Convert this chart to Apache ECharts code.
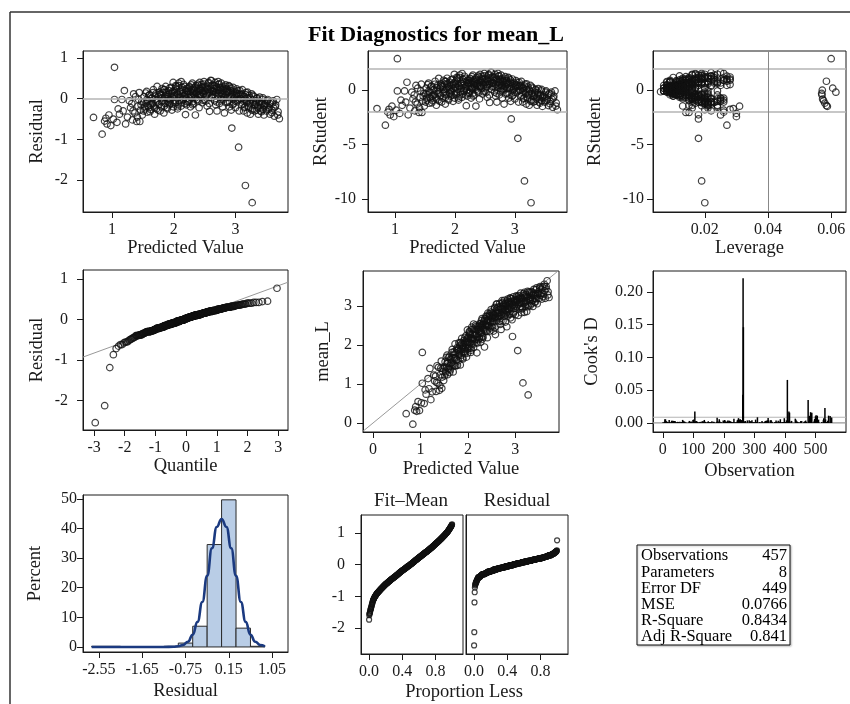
<!DOCTYPE html>
<html><head><meta charset="utf-8">
<script src="https://cdn.jsdelivr.net/npm/echarts@6.0.0/dist/echarts.min.js"></script>
<style>html,body{margin:0;padding:0;background:#fff}#c{width:850px;height:704px}</style>
</head><body><div id="c"></div>
<script>
// ---------------- data ----------------
const predicted = [
0.70,0.84,0.88,0.92,0.95,0.98,
1.04,1.04,1.16,1.20,1.02,1.08,1.12,1.18,1.25,
1.30,1.32,1.33,1.35,1.37,1.40,1.42,1.44,1.45,1.46,1.48,1.49,
1.51,1.52,1.53,1.55,1.56,1.57,1.58,1.60,1.61,1.62,1.63,1.65,1.66,1.67,1.68,1.69,1.70,1.71,1.72,1.73,1.74,1.75,1.76,1.77,1.78,
1.79,1.80,1.81,1.82,1.83,1.84,1.85,1.86,1.87,1.88,1.89,1.90,1.91,1.92,1.93,1.94,1.95,1.96,1.97,1.98,1.99,1.99,2.00,1.85,1.93,
2.01,2.02,2.03,2.04,2.05,2.06,2.07,2.08,2.09,2.10,2.11,2.12,2.13,2.14,2.15,2.16,2.17,2.18,2.19,2.19,2.20,2.21,2.22,2.04,2.12,2.07,
2.23,2.24,2.25,2.26,2.27,2.28,2.29,2.30,2.31,2.32,2.33,2.34,2.35,2.36,2.37,2.38,2.39,2.40,2.41,2.42,2.26,2.30,2.34,2.38,2.28,2.40,
2.43,2.44,2.45,2.46,2.47,2.48,2.49,2.50,2.51,2.52,2.53,2.54,2.55,2.56,2.57,2.58,2.59,2.60,2.61,2.62,2.63,2.64,2.46,2.52,2.58,2.61,
2.65,2.66,2.67,2.68,2.69,2.70,2.71,2.72,2.73,2.74,2.75,2.76,2.77,2.78,2.79,2.80,2.81,2.82,2.83,2.84,2.85,2.68,2.72,2.76,2.80,2.84,
2.86,2.87,2.88,2.89,2.90,2.91,2.92,2.93,2.94,2.95,2.96,2.97,2.98,2.99,3.00,3.01,3.02,3.03,3.04,3.05,3.06,3.07,3.08,2.90,2.96,3.02,
3.09,3.10,3.11,3.12,3.13,3.14,3.15,3.16,3.17,3.18,3.19,3.20,3.21,3.22,3.23,3.24,3.25,3.26,3.27,3.28,3.29,3.30,3.31,3.32,3.14,
3.33,3.34,3.35,3.36,3.37,3.38,3.39,3.41,3.42,3.43,3.44,3.45,3.46,3.47,
3.49,3.50,3.52,3.54,3.56,3.57,3.59,3.61,3.62,3.63,3.65,3.67,3.69,3.71,
0.90,1.10,1.22,1.28,
1.34,1.38,1.41,1.47,1.43,
1.515,1.535,1.545,1.565,1.585,1.595,1.615,1.635,1.645,1.665,1.685,1.705,1.725,1.745,1.765,
1.785,1.805,1.815,1.835,1.845,1.865,1.875,1.895,1.905,1.915,1.935,1.945,1.965,1.975,1.995,
2.005,2.015,2.025,2.035,2.055,2.065,2.085,2.095,2.115,2.125,2.145,2.155,2.175,2.185,2.205,2.215,
2.225,2.235,2.245,2.265,2.275,2.285,2.305,2.315,2.325,2.345,2.355,2.365,2.385,2.395,2.405,2.415,
2.425,2.435,2.455,2.465,2.475,2.485,2.505,2.515,2.535,2.545,2.565,2.575,2.595,2.605,2.625,2.635,
2.645,2.655,2.675,2.685,2.695,2.715,2.725,2.735,2.755,2.765,2.785,2.795,2.805,2.825,2.835,2.845,
2.855,2.865,2.875,2.895,2.905,2.925,2.935,2.955,2.965,2.985,2.995,3.015,3.035,3.055,3.075,
3.085,3.105,3.115,3.135,3.145,3.165,3.185,3.195,3.215,3.235,3.245,3.265,3.285,3.305,
3.325,3.345,3.365,3.385,3.405,3.425,3.445,3.465,
3.495,3.515,3.535,3.555,3.585,3.605,3.645,3.685
];
const residual = [
-0.46,-0.87,-0.55,-0.62,-0.40,-0.66,
0.77,-0.02,-0.02,0.20,-0.50,-0.58,-0.38,-0.30,-0.45,
-0.22,-0.12,-0.52,0.12,-0.35,-0.56,-0.18,0.15,-0.56,-0.28,-0.08,-0.40,
-0.30,0.05,-0.20,-0.12,0.18,-0.33,-0.05,-0.22,0.10,-0.15,-0.27,0.02,-0.10,0.22,-0.18,-0.38,-0.02,0.12,-0.25,0.30,-0.08,0.05,-0.14,0.16,-0.30,
0.08,-0.20,0.25,-0.05,0.15,-0.35,0.02,-0.12,0.30,0.10,-0.22,0.05,-0.08,0.20,-0.15,0.12,-0.02,0.28,-0.28,0.18,0.40,-0.10,0.07,0.22,-0.04,
0.15,-0.10,0.32,0.02,0.22,-0.25,0.10,0.38,-0.05,0.18,0.05,-0.18,0.28,0.12,-0.02,0.35,0.08,-0.12,-0.39,0.20,0.00,0.25,-0.08,0.30,0.42,-0.15,
0.18,-0.05,0.30,0.10,-0.20,0.22,0.02,0.38,0.14,-0.12,0.26,0.06,-0.40,0.32,0.16,-0.02,0.24,0.10,-0.22,0.40,0.28,-0.08,0.20,0.12,0.04,0.33,
0.20,0.05,0.35,-0.10,0.25,0.12,0.42,-0.02,0.18,0.30,0.08,-0.18,0.22,0.38,0.14,-0.31,0.26,0.45,0.02,0.20,0.34,0.10,0.28,-0.06,0.16,0.44,
0.25,-0.05,0.40,0.15,0.30,-0.30,0.08,0.35,0.20,-0.12,0.28,0.05,0.38,0.12,-0.20,0.22,0.02,-0.35,0.30,0.10,0.18,-0.15,0.42,0.24,-0.02,0.34,
0.25,-0.08,0.15,0.32,-0.20,0.05,0.20,-0.28,-0.72,0.10,0.28,-0.12,0.02,0.18,-0.22,0.08,0.24,-0.05,0.12,-1.19,-0.30,0.20,0.00,0.30,-0.02,0.14,
0.10,-0.15,0.22,-0.05,-0.30,0.05,-0.20,-2.13,0.15,-0.10,-0.35,0.02,-0.22,0.08,-0.12,-0.38,-0.02,0.12,-2.55,-0.25,-0.08,0.05,-0.30,-0.15,-0.02,
-0.05,-0.28,0.02,-0.18,-0.38,-0.10,0.04,-0.22,-0.32,-0.12,-0.02,-0.26,-0.40,-0.15,
-0.12,-0.30,-0.02,-0.22,-0.38,-0.08,-0.28,-0.05,-0.23,-0.43,-0.15,-0.02,-0.32,-0.49,
-0.48,-0.25,-0.62,-0.05,
-0.30,0.05,-0.45,-0.15,-0.02,
-0.08,-0.25,0.14,-0.02,-0.18,0.08,-0.32,0.00,-0.12,0.15,-0.22,0.06,-0.05,-0.28,0.10,
0.12,-0.08,0.02,0.22,-0.18,0.05,0.16,-0.25,0.10,0.00,0.26,-0.12,0.14,0.04,-0.20,
0.20,0.08,-0.05,0.26,0.12,-0.20,0.32,0.04,0.16,-0.10,0.22,0.00,0.30,0.10,-0.15,0.18,
0.12,0.25,-0.08,0.18,0.06,0.34,-0.15,0.22,0.10,0.28,0.02,0.16,0.36,-0.05,0.20,0.08,
0.24,0.10,0.30,0.16,-0.04,0.36,0.20,0.06,0.26,0.14,0.40,-0.12,0.22,0.32,0.08,0.18,
0.18,0.32,0.06,0.26,-0.08,0.22,0.12,0.36,0.16,-0.02,0.28,0.10,0.20,0.04,0.24,-0.10,
0.14,0.22,0.04,0.18,-0.10,0.26,0.08,-0.15,0.16,0.06,-0.05,0.12,0.20,-0.02,0.10,
0.00,0.12,-0.12,0.06,-0.22,0.10,-0.05,0.16,-0.18,0.02,-0.10,-0.28,0.08,-0.15,
-0.10,0.00,-0.22,-0.06,-0.30,-0.14,0.02,-0.20,
-0.18,-0.05,-0.26,-0.12,-0.34,-0.10,-0.20,-0.40
];
const leverage = [
0.029,0.027,0.026,0.025,0.031,0.030,
0.060,0.024,0.021,0.019,0.026,0.030,0.024,0.022,0.021,
0.020,0.019,0.022,0.018,0.021,0.015,0.017,0.016,0.014,0.016,0.015,0.013,
0.018,0.012,0.016,0.011,0.014,0.017,0.009,0.013,0.010,0.012,0.015,0.008,0.011,0.0585,0.014,0.016,0.009,0.012,0.018,0.013,0.010,0.007,0.012,0.015,0.021,
0.011,0.019,0.013,0.008,0.016,0.020,0.010,0.014,0.017,0.009,0.022,0.0605,0.012,0.015,0.018,0.011,0.007,0.019,0.024,0.013,0.016,0.010,0.008,0.021,0.006,
0.012,0.017,0.020,0.009,0.023,0.026,0.011,0.018,0.014,0.025,0.008,0.021,0.015,0.027,0.010,0.022,0.013,0.024,0.019,0.016,0.0572,0.028,0.012,0.026,0.017,0.020,
0.014,0.0615,0.021,0.009,0.025,0.016,0.011,0.023,0.013,0.018,0.027,0.008,0.021,0.015,0.020,0.012,0.026,0.010,0.022,0.017,0.024,0.014,0.019,0.007,0.011,0.028,
0.013,0.009,0.022,0.017,0.026,0.011,0.019,0.008,0.024,0.015,0.012,0.020,0.027,0.016,0.010,0.023,0.013,0.025,0.009,0.018,0.021,0.012,0.028,0.014,0.017,0.022,
0.016,0.010,0.024,0.013,0.020,0.018,0.009,0.027,0.015,0.011,0.022,0.008,0.019,0.014,0.025,0.012,0.010,0.021,0.017,0.013,0.023,0.016,0.026,0.011,0.007,0.020,
0.014,0.010,0.019,0.023,0.016,0.009,0.021,0.025,0.018,0.012,0.027,0.015,0.008,0.020,0.024,0.011,0.017,0.013,0.022,0.018,0.026,0.015,0.010,0.019,0.012,0.028,
0.012,0.018,0.024,0.009,0.020,0.014,0.026,0.019,0.016,0.011,0.022,0.008,0.017,0.013,0.021,0.015,0.010,0.025,0.020,0.018,0.012,0.009,0.023,0.016,0.007,
0.013,0.019,0.010,0.016,0.021,0.012,0.009,0.0573,0.0580,0.014,0.008,0.0576,0.0588,0.017,
0.0571,0.022,0.011,0.018,0.0585,0.0570,0.020,0.010,0.016,0.024,0.013,0.009,0.021,0.020,
0.028,0.025,0.018,0.020,
0.019,0.017,0.016,0.015,0.014,
0.010,0.015,0.008,0.013,0.017,0.011,0.019,0.009,0.014,0.012,0.016,0.008,0.011,0.020,0.013,
0.012,0.009,0.016,0.011,0.018,0.007,0.014,0.020,0.010,0.013,0.017,0.009,0.015,0.011,0.019,
0.011,0.015,0.008,0.019,0.013,0.022,0.010,0.016,0.012,0.018,0.009,0.014,0.021,0.011,0.017,0.013,
0.012,0.009,0.016,0.011,0.020,0.014,0.010,0.018,0.008,0.023,0.013,0.015,0.019,0.011,0.017,0.010,
0.014,0.010,0.019,0.012,0.016,0.022,0.009,0.013,0.017,0.011,0.020,0.015,0.008,0.018,0.012,0.024,
0.013,0.018,0.010,0.015,0.021,0.009,0.016,0.012,0.019,0.011,0.014,0.022,0.008,0.017,0.013,0.020,
0.011,0.016,0.009,0.014,0.019,0.012,0.017,0.010,0.021,0.013,0.015,0.008,0.018,0.012,0.016,
0.013,0.010,0.017,0.011,0.020,0.014,0.009,0.016,0.012,0.018,0.010,0.022,0.013,0.015,
0.012,0.009,0.016,0.011,0.019,0.013,0.010,0.015,
0.013,0.010,0.017,0.012,0.020,0.011,0.016,0.024
];
const obsNo = [
548,476,486,484,503,531,
408,492,515,521,506,105,498,540,481,
470,478,500,512,526,551,535,489,248,495,509,343,
12,27,45,58,71,252,88,96,113,127,139,151,164,497,176,244,188,199,211,223,234,3,19,36,340,
8,23,41,54,67,256,80,92,108,121,133,490,146,158,170,182,194,206,218,229,261,14,31,49,62,
5,17,29,43,56,69,83,99,116,130,142,155,167,179,191,203,215,227,246,238,493,270,281,292,304,315,
326,519,337,349,358,367,376,385,394,403,421,430,253,439,448,457,466,2,10,21,33,47,60,74,86,101,
110,124,136,148,161,173,185,197,209,221,232,242,267,277,288,344,299,310,321,332,353,362,371,380,389,398,
411,425,434,443,452,335,461,7,16,25,38,51,65,77,90,104,118,258,129,141,153,166,178,190,201,213,
225,236,272,283,295,306,318,341,415,329,347,356,365,374,383,392,401,419,428,262,405,437,446,455,464,1,
11,22,34,46,338,59,72,264,84,95,250,107,119,131,144,412,157,169,263,181,193,205,217,230,240,
274,286,297,308,254,319,331,510,480,351,360,527,413,369,
537,378,387,396,488,544,422,433,442,345,451,460,468,553,
543,529,502,474,
479,494,533,511,524,
4,15,26,37,48,57,66,75,85,94,103,112,122,132,143,
152,162,172,183,192,202,212,222,231,239,6,18,28,39,50,
61,73,82,93,102,114,123,134,145,154,165,175,186,196,207,216,
226,235,243,271,279,289,298,307,316,325,334,346,355,364,373,382,
391,400,410,420,427,436,445,454,463,469,9,20,30,40,52,63,
76,87,97,109,120,128,140,149,160,171,180,189,200,210,219,228,
237,266,276,287,296,305,314,324,333,342,352,361,370,379,388,
397,406,417,426,435,444,453,462,471,13,24,35,44,53,
64,78,89,100,111,125,135,147,
156,168,177,187,198,208,220,233
];
// histogram of residuals (bin centres, percent)
const histCenters = [-2.55,-2.25,-1.05,-0.75,-0.45,-0.15,0.15,0.45,0.75];
const histPercent = [0.22,0.22,0.22,1.31,7.00,34.57,49.67,6.35,0.22];
const histBinWidth = 0.3;
// normal density overlay (percent)
const normalX   = [-2.7,-2.0,-1.5,-1.2,-1.0,-0.9,-0.8,-0.7,-0.6,-0.5,-0.4,-0.3,-0.2,-0.1,0.0,0.1,0.2,0.3,0.4,0.5,0.6,0.7,0.8,0.9];
const normalPct = [0,0,0,0,0.06,0.22,0.67,1.78,4.13,8.46,15.2,24.0,33.3,40.5,43.2,40.5,33.3,24.0,15.2,8.46,4.13,1.78,0.67,0.22];
// fit statistics table
const tableLabels = ['Observations','Parameters','Error DF','MSE','R-Square','Adj R-Square'];
const tableValues = ['457','8','449','0.0766','0.8434','0.841'];
const nObs = 457, nParams = 8, errorDF = 449, mse = 0.0766;

// ---------------- derived statistics ----------------
function invNorm(p){
  const a=[-3.969683028665376e+01,2.209460984245205e+02,-2.759285104469687e+02,1.383577518672690e+02,-3.066479806614716e+01,2.506628277459239e+00];
  const b=[-5.447609879822406e+01,1.615858368580409e+02,-1.556989798598866e+02,6.680131188771972e+01,-1.328068155288572e+01];
  const c=[-7.784894002430293e-03,-3.223964580411365e-01,-2.400758277161838e+00,-2.549671010115818e+00,4.374664141464968e+00,2.938163982698783e+00];
  const d=[7.784695709041462e-03,3.224671290700398e-01,2.445134137142996e+00,3.754408661907416e+00];
  const pl=0.02425, ph=1-pl; let q,r;
  if(p<pl){q=Math.sqrt(-2*Math.log(p));return (((((c[0]*q+c[1])*q+c[2])*q+c[3])*q+c[4])*q+c[5])/((((d[0]*q+d[1])*q+d[2])*q+d[3])*q+1);}
  if(p<=ph){q=p-0.5;r=q*q;return (((((a[0]*r+a[1])*r+a[2])*r+a[3])*r+a[4])*r+a[5])*q/(((((b[0]*r+b[1])*r+b[2])*r+b[3])*r+b[4])*r+1);}
  q=Math.sqrt(-2*Math.log(1-p));return -(((((c[0]*q+c[1])*q+c[2])*q+c[3])*q+c[4])*q+c[5])/((((d[0]*q+d[1])*q+d[2])*q+d[3])*q+1);
}
const N = Math.min(predicted.length, residual.length, leverage.length, obsNo.length);
const idx = [...Array(N).keys()];
const rstudent = idx.map(i=>{const e=residual[i],h=leverage[i];const s2=(errorDF*mse-e*e/(1-h))/(errorDF-1);return e/Math.sqrt(s2*(1-h));});
const cooksD = idx.map(i=>{const e=residual[i],h=leverage[i];return e*e/(nParams*mse)*h/((1-h)*(1-h));});
const observed = idx.map(i=>predicted[i]+residual[i]);
const sortedRes = residual.slice(0,N).sort((a,b)=>a-b);
const qqData = sortedRes.map((r,i)=>[invNorm((i+1-0.375)/(N+0.25)), r]);
const meanPred = predicted.slice(0,N).reduce((s,v)=>s+v,0)/N;
const fitMeanSorted = predicted.slice(0,N).map(v=>v-meanPred).sort((a,b)=>a-b);
const rfFit = fitMeanSorted.map((v,i)=>[(i+0.5)/N, v]);
const rfRes = sortedRes.map((v,i)=>[(i+0.5)/N, v]);
const rstudCut = 2, levCut = 2*nParams/nObs, cookCut = 4/nObs;
const sigma = Math.sqrt(mse);

// ---------------- chart ----------------
const FONT = '"Liberation Serif","Times New Roman",serif';
const INK = '#1a1a1a';
const REF = '#b4b4b4';
function ax(gi,min,max,ticks,fmt,name,nameGap,margin,extra){
  return Object.assign({
    type:'value',gridIndex:gi,min:min,max:max,
    axisLine:{show:true,onZero:false,lineStyle:{color:INK,width:1}},
    axisTick:{show:true,inside:false,length:6,customValues:ticks,lineStyle:{color:INK,width:1}},
    axisLabel:{show:true,customValues:ticks,formatter:fmt,fontFamily:FONT,fontSize:16,color:INK,margin:margin},
    splitLine:{show:false},
    name:name,nameLocation:'middle',nameGap:nameGap,
    nameTextStyle:{fontFamily:FONT,fontSize:18.5,color:INK}
  },extra||{});
}
const f0 = v=>String(v), f1=v=>v.toFixed(1), f2=v=>v.toFixed(2);
function grid(l,t,w,h){return {left:l,top:t,width:w,height:h,show:true,borderColor:INK,borderWidth:1,backgroundColor:'transparent',outerBoundsMode:'none'};}
const circle = {color:'rgba(0,0,0,0)',borderColor:'#111',borderWidth:1.2};
function mline(data){return {silent:true,symbol:['none','none'],label:{show:false},lineStyle:{color:REF,width:1.5,type:'solid'},data:data,animation:false};}
function refLine(xi,pts,color,width,z){return {type:'line',xAxisIndex:xi,yAxisIndex:xi,data:pts,symbol:'none',silent:true,lineStyle:{color:color,width:width},z:z||1};}

const X = {
  g1:[0.53,3.85], g2:[0.55,3.87], g3:[0.0036,0.0647], g4:[-3.36,3.32], g5:[-0.21,3.92], g6:[-32,600], g7:[-2.88,1.38], g8:[-0.096,1.13]
};
const Y = {
  g1:[-2.78,1.17], g2:[-11.2,3.6], g4:[-2.73,1.22], g5:[-0.23,3.9], g6:[-0.0138,0.232], g7:[-1.7,51.3], g8:[-2.82,1.57]
};

const option = {
  animation:false,
  backgroundColor:'#fff',
  grid:[grid(83,51,205,161),grid(368,51,199,161),grid(653,51,193,161),
        grid(83,270,205,160),grid(363,271,196,161),grid(653,271,193,161),
        grid(83,495,205,157),grid(361,515,102,139),grid(466,515,102,139)],
  xAxis:[
    ax(0,X.g1[0],X.g1[1],[1,2,3],f0,'Predicted Value',27,10),
    ax(1,X.g2[0],X.g2[1],[1,2,3],f0,'Predicted Value',27,10),
    ax(2,X.g3[0],X.g3[1],[0.02,0.04,0.06],f2,'Leverage',27,10),
    ax(3,X.g4[0],X.g4[1],[-3,-2,-1,0,1,2,3],f0,'Quantile',25,10),
    ax(4,X.g5[0],X.g5[1],[0,1,2,3],f0,'Predicted Value',28,10),
    ax(5,X.g6[0],X.g6[1],[0,100,200,300,400,500],f0,'Observation',30,10),
    ax(6,X.g7[0],X.g7[1],[-2.55,-1.65,-0.75,0.15,1.05],f2,'Residual',30,10),
    ax(7,X.g8[0],X.g8[1],[0,0.4,0.8],f1,'',0,10),
    ax(8,X.g8[0],X.g8[1],[0,0.4,0.8],f1,'',0,10)
  ],
  yAxis:[
    ax(0,Y.g1[0],Y.g1[1],[-2,-1,0,1],f0,'Residual',36,15),
    ax(1,Y.g2[0],Y.g2[1],[-10,-5,0],f0,'RStudent',35,12),
    ax(2,Y.g2[0],Y.g2[1],[-10,-5,0],f0,'RStudent',48,9),
    ax(3,Y.g4[0],Y.g4[1],[-2,-1,0,1],f0,'Residual',36,15),
    ax(4,Y.g5[0],Y.g5[1],[0,1,2,3],f0,'mean_L',30,11),
    ax(5,Y.g6[0],Y.g6[1],[0,0.05,0.1,0.15,0.2],f2,"Cook's D",51,10),
    ax(6,Y.g7[0],Y.g7[1],[0,10,20,30,40,50],f0,'Percent',38,6),
    ax(7,Y.g8[0],Y.g8[1],[-2,-1,0,1],f0,'',0,16),
    ax(8,Y.g8[0],Y.g8[1],[],f0,'',0,16,{axisTick:{show:false},axisLabel:{show:false}})
  ],
  series:[
    {type:'scatter',xAxisIndex:0,yAxisIndex:0,symbol:'circle',symbolSize:6.5,itemStyle:circle,z:3,
     data:idx.map(i=>[predicted[i],residual[i]]),markLine:mline([{yAxis:0}])},
    {type:'scatter',xAxisIndex:1,yAxisIndex:1,symbol:'circle',symbolSize:6.5,itemStyle:circle,z:3,
     data:idx.map(i=>[predicted[i],rstudent[i]]),markLine:mline([{yAxis:rstudCut},{yAxis:-rstudCut}])},
    {type:'scatter',xAxisIndex:2,yAxisIndex:2,symbol:'circle',symbolSize:6.5,itemStyle:circle,z:3,
     data:idx.map(i=>[leverage[i],rstudent[i]]),
     markLine:mline([{yAxis:rstudCut},{yAxis:-rstudCut},{xAxis:levCut,lineStyle:{color:'#888',width:1}}])},
    refLine(3,[[X.g4[0],sigma*X.g4[0]],[X.g4[1],sigma*X.g4[1]]],'#999',1,1),
    {type:'scatter',xAxisIndex:3,yAxisIndex:3,symbol:'circle',symbolSize:6.5,itemStyle:circle,z:3,data:qqData},
    refLine(4,[[X.g5[0],X.g5[0]],[X.g5[1],X.g5[1]]],'#999',1,1),
    {type:'scatter',xAxisIndex:4,yAxisIndex:4,symbol:'circle',symbolSize:6.5,itemStyle:circle,z:3,
     data:idx.map(i=>[predicted[i],observed[i]])},
    refLine(5,[[X.g6[0],0],[X.g6[1],0]],'#999',1.2,1),
    refLine(5,[[X.g6[0],cookCut],[X.g6[1],cookCut]],REF,1.2,1),
    {type:'custom',xAxisIndex:5,yAxisIndex:5,z:3,data:idx.map(i=>[obsNo[i],cooksD[i]]),
     renderItem:function(p,api){const a=api.coord([api.value(0),0]),b=api.coord([api.value(0),api.value(1)]);
       return {type:'line',shape:{x1:a[0],y1:a[1],x2:b[0],y2:b[1]},style:{stroke:'#000',lineWidth:1.5}};}},
    {type:'custom',xAxisIndex:6,yAxisIndex:6,z:2,encode:{x:[0,1],y:2},
     data:histCenters.map((c,i)=>[c-histBinWidth/2,c+histBinWidth/2,histPercent[i]]),
     renderItem:function(p,api){const a=api.coord([api.value(0),api.value(2)]),b=api.coord([api.value(1),0]);
       return {type:'rect',shape:{x:a[0],y:a[1],width:b[0]-a[0],height:b[1]-a[1]},style:{fill:'#b9cde6',stroke:'#2a2a2a',lineWidth:1}};}},
    {type:'line',xAxisIndex:6,yAxisIndex:6,z:4,symbol:'none',smooth:0.5,smoothMonotone:'x',
     data:normalX.map((x,i)=>[x,normalPct[i]]),lineStyle:{color:'#1b3a80',width:2.6}},
    {type:'scatter',xAxisIndex:7,yAxisIndex:7,symbol:'circle',symbolSize:5,itemStyle:circle,z:3,data:rfFit},
    {type:'scatter',xAxisIndex:8,yAxisIndex:8,symbol:'circle',symbolSize:5,itemStyle:circle,z:3,data:rfRes}
  ],
  graphic:[
    {type:'line',shape:{x1:10,y1:12,x2:850,y2:12},style:{stroke:'#333',lineWidth:1.5},silent:true},
    {type:'line',shape:{x1:10,y1:12,x2:10,y2:704},style:{stroke:'#333',lineWidth:1.5},silent:true},
    {type:'text',x:436,y:35,style:{text:'Fit Diagnostics for mean_L',font:'bold 22px '+FONT,fill:'#000',textAlign:'center',textVerticalAlign:'middle'}},
    {type:'text',x:411,y:501,style:{text:'Fit\u2013Mean',font:'19px '+FONT,fill:INK,textAlign:'center',textVerticalAlign:'middle'}},
    {type:'text',x:517,y:501,style:{text:'Residual',font:'19px '+FONT,fill:INK,textAlign:'center',textVerticalAlign:'middle'}},
    {type:'text',x:464,y:692,style:{text:'Proportion Less',font:'18.5px '+FONT,fill:INK,textAlign:'center',textVerticalAlign:'middle'}},
    {type:'rect',shape:{x:637,y:545,width:153,height:100},style:{fill:'#fff',stroke:'#111',lineWidth:1,shadowColor:'rgba(0,0,0,0.25)',shadowOffsetX:1,shadowOffsetY:1,shadowBlur:2}}
  ].concat(tableLabels.map((t,i)=>({type:'text',x:641,y:556+16.2*i,style:{text:t,font:'16.5px '+FONT,fill:'#000',textAlign:'left',textVerticalAlign:'middle'}})))
   .concat(tableValues.map((t,i)=>({type:'text',x:787,y:556+16.2*i,style:{text:t,font:'16.5px '+FONT,fill:'#000',textAlign:'right',textVerticalAlign:'middle'}})))
};
const chart = echarts.init(document.getElementById('c'),null,{renderer:'canvas'});
chart.setOption(option);
</script></body></html>
